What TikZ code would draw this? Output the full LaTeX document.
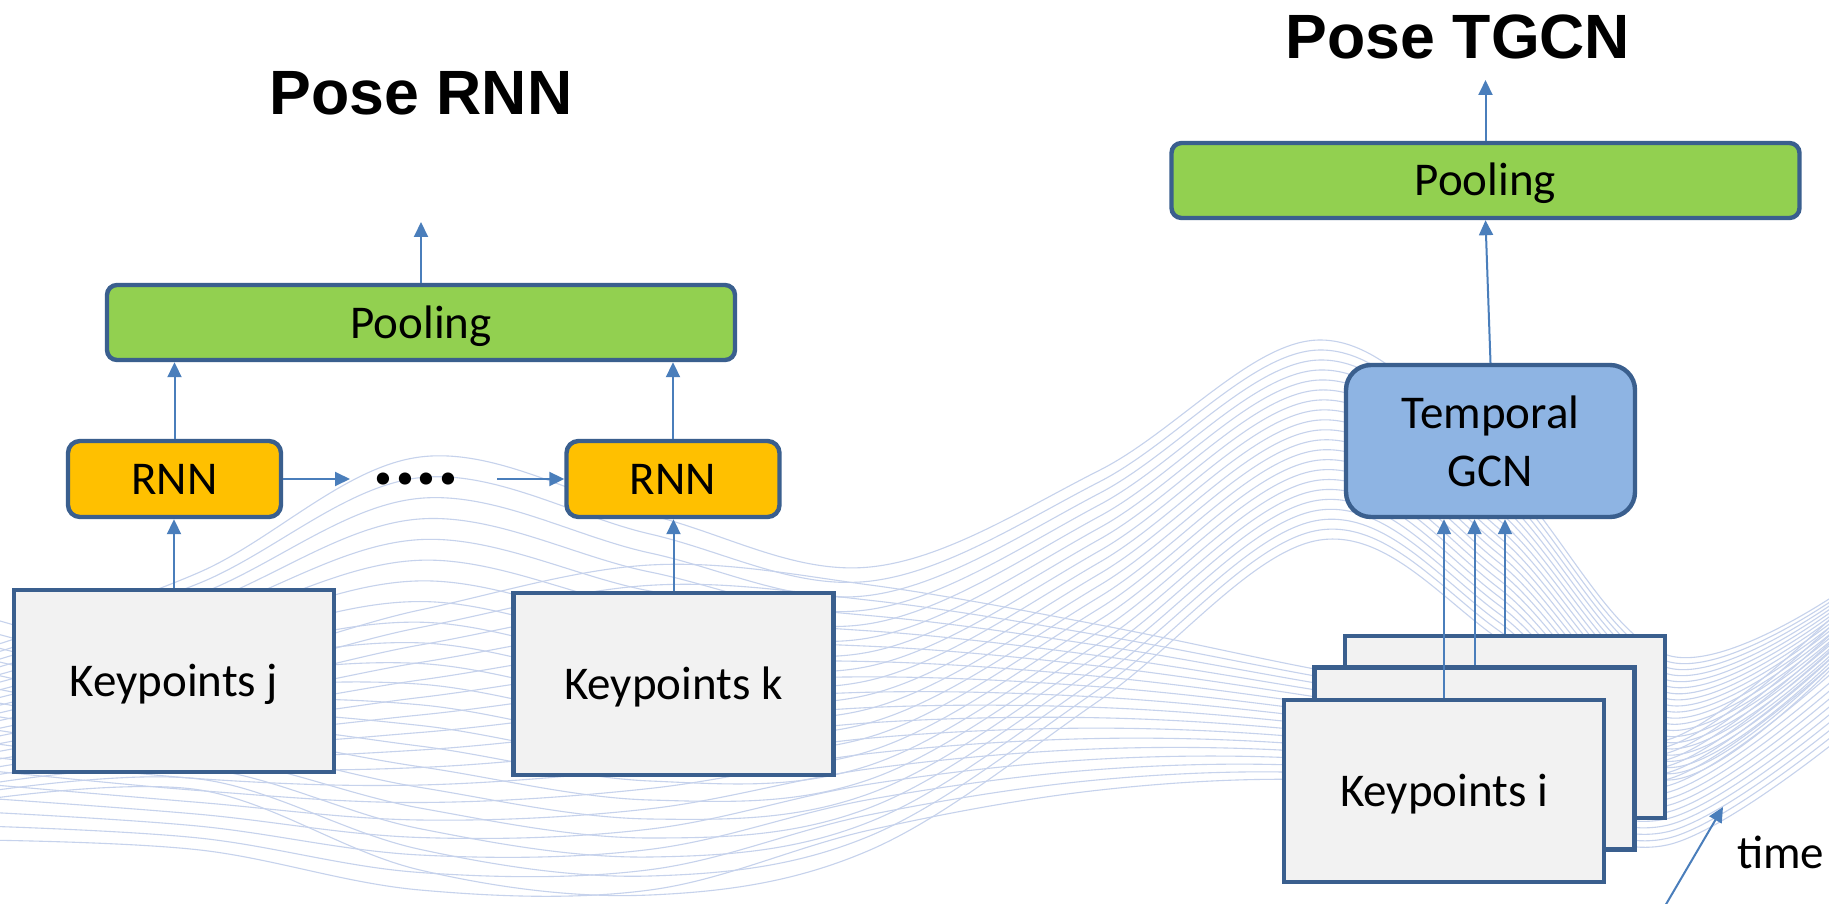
\documentclass[tikz,border=0pt]{standalone}
\usepackage{fontspec}
\setmainfont{Carlito}
\newfontfamily\titlefont{Liberation Sans}
\usetikzlibrary{arrows.meta}
\definecolor{bdr}{HTML}{3A5F8E}
\definecolor{arrc}{HTML}{4A7EBB}
\definecolor{poolc}{HTML}{92D050}
\definecolor{rnnc}{HTML}{FFC000}
\definecolor{gcnc}{HTML}{8EB4E3}
\definecolor{kpc}{HTML}{F2F2F2}
\definecolor{wavec}{HTML}{C6D2EC}
\newcommand\wy[2]{(1-\wt)*(#1)+\wt*(#2)}
\begin{document}
\begin{tikzpicture}[x=1pt,y=-1pt,
  basebox/.style={draw=bdr, line width=4.4pt, inner sep=0pt, font=\fontsize{47}{58}\selectfont},
  captxt/.style={text height=31pt, text depth=0pt},
  kp/.style={basebox, captxt, fill=kpc, minimum width=320pt, minimum height=182pt},
  pool/.style={basebox, captxt, fill=poolc, rounded corners=10pt, minimum width=628pt, minimum height=75pt},
  rnn/.style={basebox, captxt, fill=rnnc, rounded corners=12pt, minimum width=213pt, minimum height=76pt},
  gcn/.style={basebox, fill=gcnc, rounded corners=25pt, minimum width=289pt, minimum height=152pt, align=center},
  ttl/.style={font=\titlefont\bfseries\fontsize{62.6}{70}\selectfont, anchor=base, inner sep=0pt},
  dotsn/.style={font=\bfseries\fontsize{82}{90}\selectfont, inner sep=0pt},
  arr/.style={draw=arrc, line width=2pt, -{Triangle[length=15pt,width=14pt]}},
  wave/.style={draw=wavec, line width=1.1pt}
]
\fill[white] (0,0) rectangle (1829,904);
\useasboundingbox (0,0) rectangle (1829,904);

% decorative background waves
\begin{scope}
\clip (0,0) rectangle (1829,904);
\foreach \i in {0,...,20}{
  \pgfmathsetmacro\wt{\i/20}
  \draw[wave] plot[smooth,tension=0.6] coordinates {
    (-20,{\wy{650}{800}}) (200,{\wy{572}{790}}) (420,{\wy{457}{870}})
    (650,{\wy{515}{895}}) (870,{\wy{567}{850}}) (1100,{\wy{470}{700}})
    (1320,{\wy{340}{540}}) (1500,{\wy{470}{640}}) (1667,{\wy{655}{780}})
    (1850,{\wy{585}{650}})};
}
\foreach \i in {0,...,16}{
  \pgfmathsetmacro\wt{\i/16}
  \draw[wave] plot[smooth,tension=0.6] coordinates {
    (-20,{\wy{615}{840}}) (200,{\wy{660}{850}}) (420,{\wy{610}{890}})
    (650,{\wy{565}{890}}) (870,{\wy{585}{830}}) (1100,{\wy{625}{790}})
    (1320,{\wy{670}{780}}) (1500,{\wy{700}{805}}) (1667,{\wy{740}{845}})
    (1850,{\wy{600}{730}})};
}
\end{scope}

% titles
\node[ttl] (tRNN) at (421,115) {Pose RNN};
\node[ttl] (tGCN) at (1458,59) {Pose TGCN};

% Pose RNN
\node[pool] (poolL) at (421,322.5) {Pooling};
\node[rnn] (rnnL) at (174.5,479) {RNN};
\node[rnn] (rnnR) at (673,479) {RNN};
\node[kp] (kpj) at (174,681) {Keypoints j};
\node[kp] (kpk) at (673.5,684) {Keypoints k};
\node[dotsn] (dots) at (416,479) {....};
\coordinate (oL) at (421,222);

\draw[arr] (kpj.north) -- (kpj.north |- rnnL.south);
\draw[arr] (kpk.north) -- (kpk.north |- rnnR.south);
\draw[arr] (rnnL.north) -- (rnnL.north |- poolL.south);
\draw[arr] (rnnR.north) -- (rnnR.north |- poolL.south);
\draw[arr] (poolL.north) -- (oL);
\draw[arr] (rnnL.east) -- ([xshift=-22pt]dots.west);
\draw[arr] ([xshift=37pt]dots.east) -- (rnnR.west);

% Pose TGCN
\node[pool] (poolR) at (1485.5,180.5) {Pooling};
\node[gcn] (gcn) at (1490.5,441) {Temporal\\GCN};
\node[kp] (kpB) at (1505,727) {};
\node[kp] (kpM) at (1474.5,758.5) {};
\node[kp] (kpF) at (1444,791) {Keypoints i};
\coordinate (oR) at (1485.5,80);

\draw[arr] (gcn.north) -- (poolR.south);
\draw[arr] (poolR.north) -- (oR);
\draw[arr] (kpF.north) -- (kpF.north |- gcn.south);
\draw[arr] (kpM.north) -- (kpM.north |- gcn.south);
\draw[arr] (kpB.north) -- (kpB.north |- gcn.south);

% time
\node[font=\fontsize{47}{58}\selectfont, anchor=base west, inner sep=0pt] (time) at (1737,868) {time};
\coordinate (tA) at (1665,906);
\coordinate (tB) at (1723,807);
\draw[arr] (tA) -- (tB);
\end{tikzpicture}
\end{document}
